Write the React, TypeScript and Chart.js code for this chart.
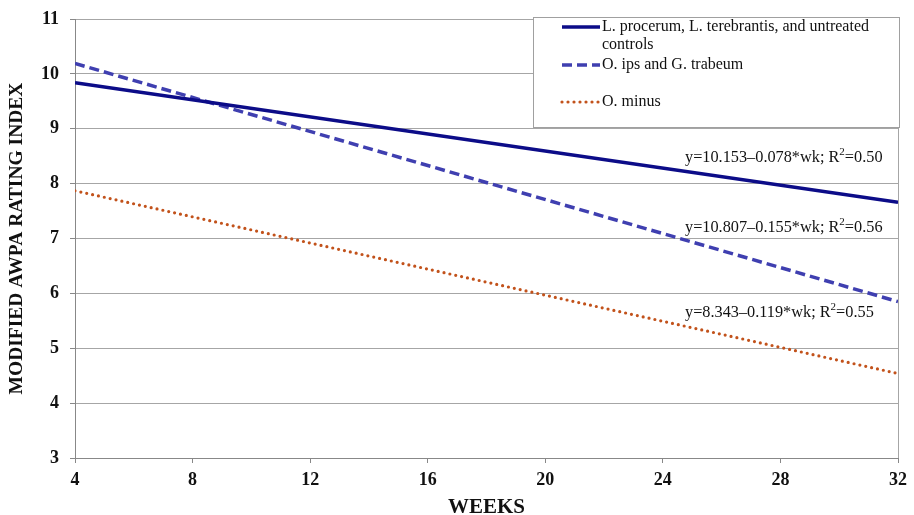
import React, { useEffect, useRef } from "react";
import { Chart, registerables } from "chart.js";

Chart.register(...registerables);

// ---- data ----
const weeks = [4, 32];
const seriesNames = [
  "L. procerum, L. terebrantis, and untreated controls",
  "O. ips and G. trabeum",
  "O. minus",
];
const legendTextLines = [
  ["L. procerum, L. terebrantis, and untreated", "controls"],
  ["O. ips and G. trabeum"],
  ["O. minus"],
];
const controlsValues = [9.84, 7.66];
const ipsValues = [10.19, 5.85];
const minusValues = [7.87, 4.54];
const equationMain = ["y=10.153–0.078*wk; R", "y=10.807–0.155*wk; R", "y=8.343–0.119*wk; R"];
const equationTail = ["=0.50", "=0.56", "=0.55"];
const xTitle = "WEEKS";
const yTitle = "MODIFIED AWPA RATING INDEX";

const SERIF = '"Liberation Serif", "Times New Roman", serif';

const overlayPlugin = {
  id: "overlay",
  afterDraw(chart: any) {
    const ctx = chart.ctx;
    const ca = chart.chartArea;
    ctx.save();
    // right border
    ctx.strokeStyle = "#a6a6a6";
    ctx.lineWidth = 1;
    ctx.beginPath();
    ctx.moveTo(Math.round(ca.right) + 0.5, ca.top);
    ctx.lineTo(Math.round(ca.right) + 0.5, ca.bottom);
    ctx.stroke();

    // equations
    const eqY = [158, 228, 313];
    const eqX = 685;
    ctx.fillStyle = "#111";
    ctx.textBaseline = "middle";
    for (let i = 0; i < equationMain.length; i++) {
      ctx.font = `16.3px ${SERIF}`;
      let x = eqX;
      ctx.textAlign = "left";
      ctx.fillText(equationMain[i], x, eqY[i]);
      x += ctx.measureText(equationMain[i]).width;
      ctx.font = `11px ${SERIF}`;
      ctx.fillText("2", x, eqY[i] - 6);
      x += ctx.measureText("2").width;
      ctx.font = `16.3px ${SERIF}`;
      ctx.fillText(equationTail[i], x, eqY[i]);
    }

    // legend
    const bx = 533, by = 17, bw = 366, bh = 110;
    ctx.fillStyle = "#fff";
    ctx.fillRect(bx, by, bw, bh);
    ctx.strokeStyle = "#a0a0a0";
    ctx.lineWidth = 1;
    ctx.strokeRect(bx + 0.5, by + 0.5, bw, bh);
    const rowY = [[27, 45], [65], [102]];
    chart.data.datasets.forEach((ds: any, i: number) => {
      ctx.save();
      ctx.strokeStyle = ds.borderColor;
      ctx.lineWidth = ds.borderWidth;
      ctx.setLineDash(ds.borderDash || []);
      ctx.lineCap = ds.borderCapStyle || "butt";
      ctx.beginPath();
      ctx.moveTo(562, rowY[i][0]);
      ctx.lineTo(600, rowY[i][0]);
      ctx.stroke();
      ctx.restore();
      ctx.fillStyle = "#111";
      ctx.font = `16px ${SERIF}`;
      ctx.textAlign = "left";
      ctx.textBaseline = "middle";
      legendTextLines[i].forEach((t, j) => ctx.fillText(t, 602, rowY[i][j]));
    });
    ctx.restore();
  },
};

export default function App() {
  const ref = useRef<HTMLCanvasElement>(null);
  useEffect(() => {
    const c = ref.current!;
    const chart = new Chart(c, {
      type: "line",
      data: {
        labels: weeks,
        datasets: [
          {
            label: seriesNames[0],
            data: weeks.map((w, i) => ({ x: w, y: controlsValues[i] })),
            borderColor: "#0c0c88",
            borderWidth: 3.5,
            pointRadius: 0,
            fill: false,
          },
          {
            label: seriesNames[1],
            data: weeks.map((w, i) => ({ x: w, y: ipsValues[i] })),
            borderColor: "#3f3fb0",
            borderWidth: 3.5,
            borderDash: [10, 5],
            pointRadius: 0,
            fill: false,
          },
          {
            label: seriesNames[2],
            data: weeks.map((w, i) => ({ x: w, y: minusValues[i] })),
            borderColor: "#c2521b",
            borderWidth: 3.2,
            borderDash: [0, 6],
            borderCapStyle: "round",
            pointRadius: 0,
            fill: false,
          },
        ],
      } as any,
      options: {
        animation: false,
        responsive: false,
        devicePixelRatio: 1,
        layout: { padding: { left: 0, right: 16, top: 19, bottom: 0 } },
        plugins: { legend: { display: false }, tooltip: { enabled: false } },
        scales: {
          x: {
            type: "linear",
            min: 4,
            max: 32,
            ticks: {
              stepSize: 4,
              color: "#111",
              font: { family: SERIF, size: 18, weight: "bold" },
              padding: 7,
              maxRotation: 0,
            },
            grid: { drawOnChartArea: false, drawTicks: true, tickLength: 5, color: "#888" },
            border: { display: true, color: "#888" },
            title: {
              display: true,
              text: xTitle,
              color: "#111",
              font: { family: SERIF, size: 21, weight: "bold", lineHeight: 0.7 },
              padding: { top: 0, bottom: 0 },
            },
            afterFit: (s: any) => { s.height = 57; s.paddingLeft = 0; s.paddingRight = 0; },
          },
          y: {
            type: "linear",
            min: 3,
            max: 11,
            ticks: {
              stepSize: 1,
              color: "#111",
              font: { family: SERIF, size: 18, weight: "bold" },
              padding: 11,
            },
            grid: { color: "#a6a6a6", lineWidth: 1, drawTicks: true, tickLength: 5, tickColor: "#888" },
            border: { display: true, color: "#888" },
            title: {
              display: true,
              text: yTitle,
              color: "#111",
              font: { family: SERIF, size: 19.5, weight: "bold", lineHeight: 1.2 },
              padding: { top: 5, bottom: 0 },
            },
            afterFit: (s: any) => { s.width = 75; s.paddingTop = 0; s.paddingBottom = 0; },
          },
        },
      } as any,
      plugins: [overlayPlugin],
    });
    return () => chart.destroy();
  }, []);
  return (
    <div style={{ position: "fixed", left: 0, top: 0, width: 914, height: 515, background: "#fff" }}>
      <canvas ref={ref} width={914} height={515} style={{ width: 914, height: 515, display: "block" }} />
    </div>
  );
}
